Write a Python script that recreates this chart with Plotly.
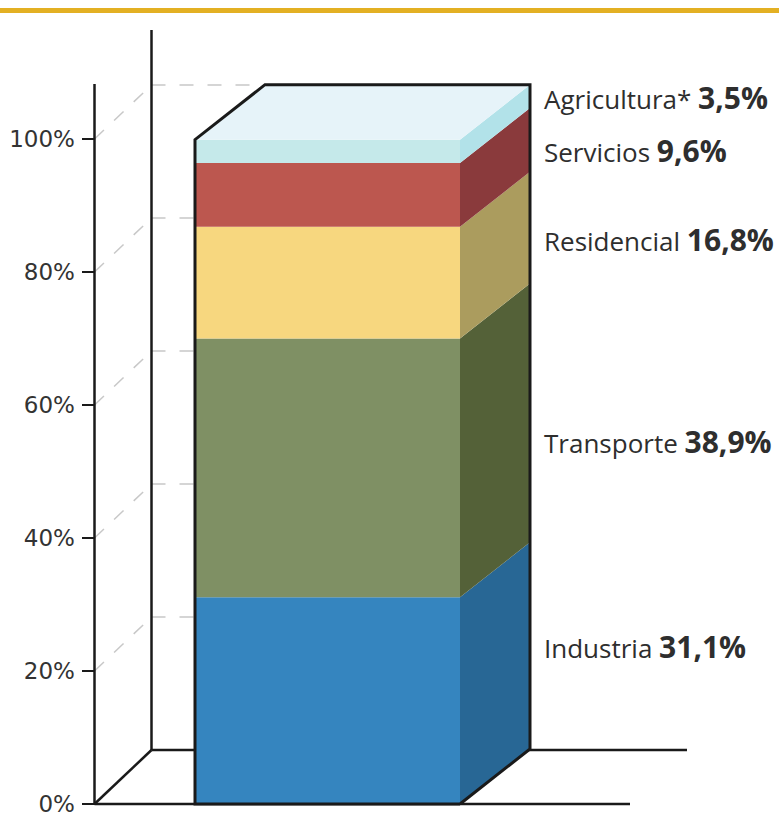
import plotly.graph_objects as go

sectors = ["Industria", "Transporte", "Residencial", "Servicios", "Agricultura*"]
shares = [31.1, 38.9, 16.8, 9.6, 3.5]
share_labels = ["31,1%", "38,9%", "16,8%", "9,6%", "3,5%"]
front_colors = ["#3585BF", "#7F9064", "#F7D77F", "#BC574F", "#C5E9EA"]
side_colors = ["#286795", "#546138", "#AB9C5E", "#8A3A3C", "#B2E2E9"]
top_color = "#E6F3F9"
y_ticks = [0, 20, 40, 60, 80, 100]

W, H = 779, 814
PX_PER_UNIT = 6.65
Y0_PX = 804
BAR_L, BAR_R = 195, 460
DX, DY = 70, 55 / PX_PER_UNIT
AX_L, AX_BACK = 94.5, 151.5
BACK_DY = 54 / PX_PER_UNIT
INK = "#1a1a1a"
DASH = "#c8c8c8"

fig = go.Figure()
base = 0
bases = []
for s in shares:
    bases.append(base)
    base += s
total = base

for name, val, b, c in zip(sectors, shares, bases, front_colors):
    fig.add_trace(go.Bar(x=[(BAR_L + BAR_R) / 2], y=[val], base=[b], width=[BAR_R - BAR_L],
                         marker=dict(color=c, line_width=0), name=name))
for name, val, b, c in zip(sectors, shares, bases, side_colors):
    fig.add_trace(go.Scatter(x=[BAR_R, BAR_R + DX, BAR_R + DX, BAR_R, BAR_R],
                             y=[b, b + DY, b + val + DY, b + val, b],
                             mode="lines", fill="toself", fillcolor=c, line=dict(width=0), name=name))
fig.add_trace(go.Scatter(x=[BAR_L, BAR_L + DX, BAR_R + DX, BAR_R, BAR_L],
                         y=[total, total + DY, total + DY, total, total],
                         mode="lines", fill="toself", fillcolor=top_color, line=dict(width=0), name="top"))
# outline of the block
fig.add_trace(go.Scatter(x=[BAR_R, BAR_L, BAR_L, BAR_L + DX, BAR_R + DX, BAR_R + DX, BAR_R],
                         y=[0, 0, total, total + DY, total + DY, DY, 0],
                         mode="lines", line=dict(color=INK, width=3, simplify=False), name="outline"))

shapes = [dict(type="rect", xref="paper", yref="paper", x0=0, x1=1,
               y0=1 - 13 / H, y1=1 - 8 / H, fillcolor="#E3B023", line_width=0)]


def seg(x0, y0, x1, y1, color=INK, width=2.5, dash="solid"):
    shapes.append(dict(type="line", xref="x", yref="y", x0=x0, y0=y0, x1=x1, y1=y1, layer="below",
                       line=dict(color=color, width=width, dash=dash)))


for t in y_ticks[1:]:
    seg(AX_L, t, AX_BACK, t + BACK_DY, DASH, 1.5, "13px,14px")
    seg(AX_BACK, t + BACK_DY, BAR_L + DX if t == 100 else BAR_L, t + BACK_DY, DASH, 1.5, "14px,14px")
seg(AX_L, 0, AX_L, (Y0_PX - 84) / PX_PER_UNIT)
seg(AX_BACK, BACK_DY, AX_BACK, (Y0_PX - 30) / PX_PER_UNIT)
seg(AX_L, 0, 630, 0)
seg(AX_BACK, BACK_DY, 687, BACK_DY)
seg(AX_L, 0, AX_BACK, BACK_DY)

label_y_px = [646.5, 441.5, 239.5, 150.5, 97]
annotations = []
for name, lab, py in zip(sectors, share_labels, label_y_px):
    annotations.append(dict(
        xref="paper", yref="paper", x=542 / W, y=1 - py / H, xanchor="left", yanchor="middle",
        showarrow=False,
        text=f"{name} <b style='font-size:30px'>{lab}</b>",
        font=dict(family="Open Sans", size=26, color="#2e2e2e")))

fig.update_layout(
    width=W, height=H, autosize=False, showlegend=False, barmode="overlay",
    margin=dict(l=0, r=0, t=0, b=0), plot_bgcolor="white", paper_bgcolor="white",
    hovermode=False, shapes=shapes, annotations=annotations,
    xaxis=dict(range=[0, W], visible=False, domain=[0, 1], automargin=False),
    yaxis=dict(range=[(Y0_PX - H) / PX_PER_UNIT, Y0_PX / PX_PER_UNIT], domain=[0, 1],
               anchor="free", position=AX_L / W, side="left", automargin=False,
               tickmode="array", tickvals=y_ticks, ticktext=[f"{t}%" for t in y_ticks],
               ticks="outside", ticklen=13, tickwidth=1.5, tickcolor=INK,
               ticklabeloverflow="allow", ticklabelstandoff=2,
               showgrid=False, zeroline=False, showline=False,
               tickfont=dict(family="DejaVu Sans", size=23, color="#333333")),
)

fig.write_html("out.html", config=dict(displayModeBar=False),
               post_script="document.body.style.margin='0';")
